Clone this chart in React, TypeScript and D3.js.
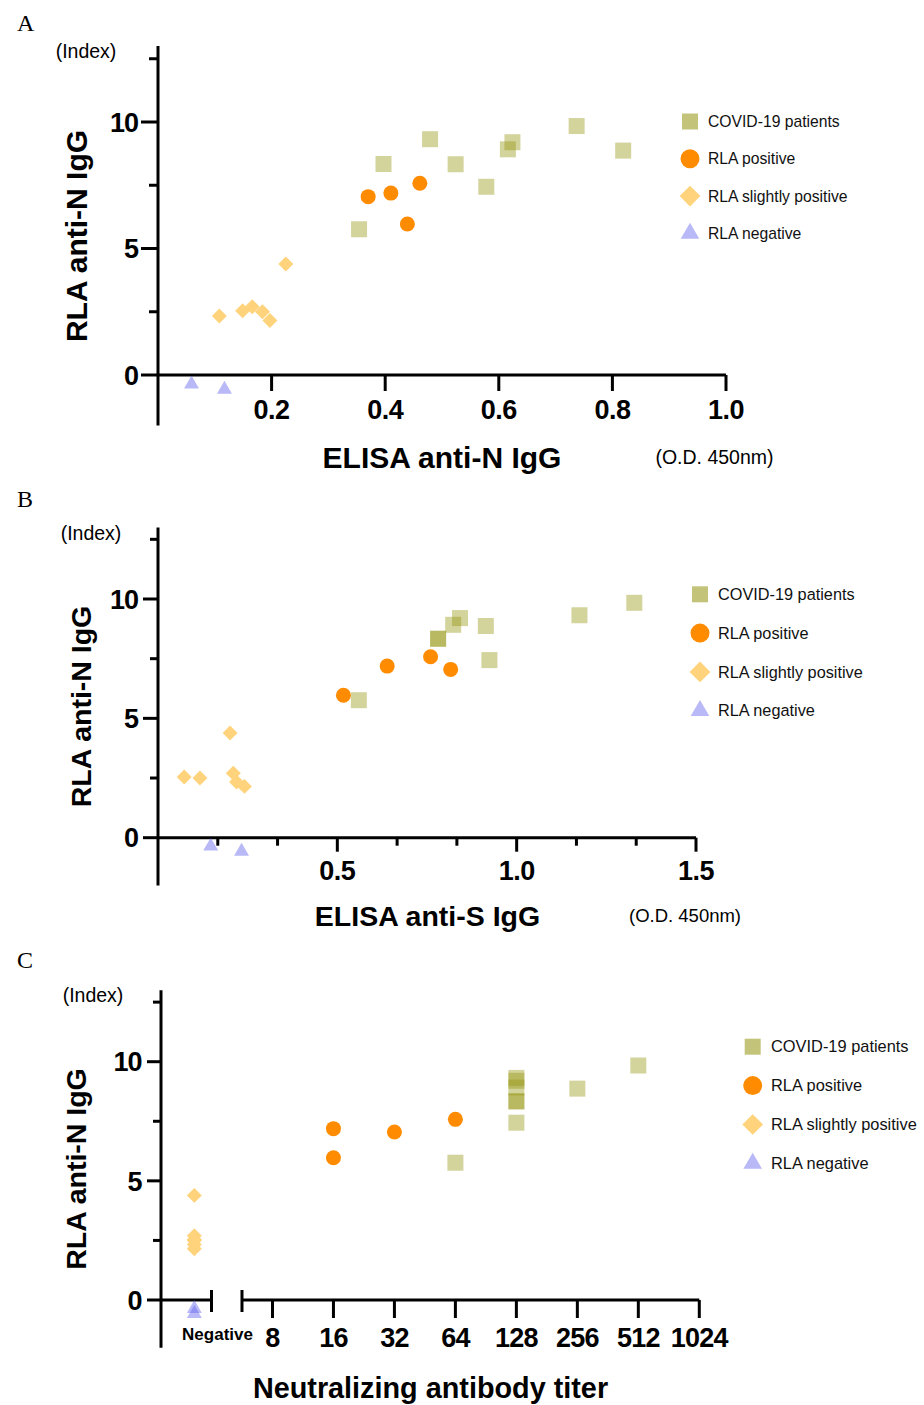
import React, { useEffect } from "react";
import * as d3 from "d3";

// ---------------- DATA ----------------
const legendLabels = ["COVID-19 patients", "RLA positive", "RLA slightly positive", "RLA negative"];
const yMajorTicks = [0, 5, 10];
const yMinorTicks = [2.5, 7.5, 12.5];

// Panel A: ELISA anti-N IgG (x) vs RLA anti-N IgG (y)
const aCovid: [number, number][] = [
  [0.354, 5.76], [0.397, 8.34], [0.479, 9.32], [0.524, 8.33], [0.578, 7.44],
  [0.616, 8.92], [0.624, 9.2], [0.737, 9.84], [0.819, 8.87],
];
const aPositive: [number, number][] = [[0.37, 7.05], [0.41, 7.19], [0.461, 7.58], [0.439, 5.97]];
const aSlight: [number, number][] = [[0.108, 2.33], [0.149, 2.54], [0.166, 2.7], [0.184, 2.5], [0.197, 2.15], [0.225, 4.39]];
const aNegative: [number, number][] = [[0.059, -0.36], [0.117, -0.57]];
const aXTicks = [0.2, 0.4, 0.6, 0.8, 1.0];

// Panel B: ELISA anti-S IgG (x) vs RLA anti-N IgG (y)
const bCovid: [number, number][] = [
  [0.56, 5.76], [0.781, 8.34], [0.781, 8.33], [0.823, 8.92], [0.842, 9.2],
  [0.914, 8.87], [0.924, 7.44], [1.175, 9.32], [1.328, 9.84],
];
const bPositive: [number, number][] = [[0.517, 5.97], [0.639, 7.19], [0.76, 7.58], [0.816, 7.05]];
const bSlight: [number, number][] = [[0.073, 2.54], [0.117, 2.5], [0.201, 4.39], [0.21, 2.7], [0.219, 2.33], [0.241, 2.15]];
const bNegative: [number, number][] = [[0.147, -0.36], [0.233, -0.57]];
const bXTicks = [0.5, 1.0, 1.5];
const bXMinor = [1 / 6, 2 / 6, 4 / 6, 5 / 6, 7 / 6, 8 / 6];

// Panel C: neutralizing antibody titer (0 = Negative) vs RLA anti-N IgG
const cCovid: [number, number][] = [
  [64, 5.76], [128, 7.44], [128, 8.34], [128, 8.33], [128, 9.32], [128, 8.92], [128, 9.2],
  [256, 8.87], [512, 9.84],
];
const cPositive: [number, number][] = [[16, 7.19], [16, 5.97], [32, 7.05], [64, 7.58]];
const cSlight: [number, number][] = [[0, 2.33], [0, 2.54], [0, 2.7], [0, 2.5], [0, 2.15], [0, 4.39]];
const cNegative: [number, number][] = [[0, -0.36], [0, -0.57]];
const cXTicks = [8, 16, 32, 64, 128, 256, 512, 1024];

// ---------------- STYLE ----------------
const FONT = "'Liberation Sans', Arial, Helvetica, sans-serif";
const SERIF = "'Liberation Serif', 'Times New Roman', serif";
const TICK_FS = 27;

type Shape = "square" | "circle" | "diamond" | "triangle";
const STYLES: { shape: Shape; fill: string; op: number; legOp: number }[] = [
  { shape: "square", fill: "rgb(150,150,20)", op: 0.42, legOp: 0.57 },
  { shape: "circle", fill: "#ff8c00", op: 1, legOp: 1 },
  { shape: "diamond", fill: "#ffd37c", op: 1, legOp: 1 },
  { shape: "triangle", fill: "rgb(100,100,240)", op: 0.45, legOp: 0.45 },
];

function symbolPath(shape: Shape, big: boolean) {
  if (shape === "square") return d3.symbol(d3.symbolSquare, 256)()!;
  if (shape === "circle") return d3.symbol(d3.symbolCircle, big ? 283 : 177)()!;
  if (shape === "diamond") return d3.symbol(d3.symbolSquare, big ? 215 : 112)()!;
  return d3.symbol(d3.symbolTriangle, big ? 150 : 97)()!;
}

function Marker({ x, y, idx, legend }: { x: number; y: number; idx: number; legend?: boolean }) {
  const s = STYLES[idx];
  const rot = s.shape === "diamond" ? " rotate(45)" : "";
  return (
    <path
      d={symbolPath(s.shape, !!legend)}
      transform={`translate(${x},${y})${rot}`}
      fill={s.fill}
      fillOpacity={legend ? s.legOp : s.op}
    />
  );
}

function Points({ series, fx, fy }: { series: [number, number][][]; fx: (v: number) => number; fy: (v: number) => number }) {
  return (
    <g>
      {series.map((pts, i) =>
        pts.map((p, j) => <Marker key={`${i}-${j}`} x={fx(p[0])} y={fy(p[1])} idx={i} />)
      )}
    </g>
  );
}

function Legend({ cx, tx, y0, step, fs }: { cx: number; tx: number; y0: number; step: number; fs: number }) {
  return (
    <g>
      {legendLabels.map((lab, i) => (
        <g key={lab}>
          <Marker x={cx} y={y0 + i * step} idx={i} legend />
          <text x={tx} y={y0 + i * step} dy="0.35em" fontFamily={FONT} fontSize={fs} fill="#111">
            {lab}
          </text>
        </g>
      ))}
    </g>
  );
}

function YAxis({ y, x0, majorLen, minorLen, labelRight, fs }: {
  y: d3.ScaleLinear<number, number>; x0: number; majorLen: number; minorLen: number; labelRight: number; fs: number;
}) {
  return (
    <g>
      <line x1={x0} x2={x0} y1={y(13)} y2={y(-2)} stroke="#000" strokeWidth={3} />
      {yMajorTicks.map((t) => (
        <g key={t}>
          <line x1={x0 - majorLen} x2={x0} y1={y(t)} y2={y(t)} stroke="#000" strokeWidth={3} />
          <text x={labelRight} y={y(t)} dy="0.36em" textAnchor="end" fontFamily={FONT} fontWeight="bold" fontSize={fs} letterSpacing={-1}>
            {t}
          </text>
        </g>
      ))}
      {yMinorTicks.map((t) => (
        <line key={t} x1={x0 - minorLen} x2={x0} y1={y(t)} y2={y(t)} stroke="#000" strokeWidth={3} />
      ))}
    </g>
  );
}

function YTitle({ x, yc, fs }: { x: number; yc: number; fs: number }) {
  return (
    <text transform={`translate(${x},${yc}) rotate(-90)`} textAnchor="middle" fontFamily={FONT} fontWeight="bold" fontSize={fs}>
      RLA anti-N IgG
    </text>
  );
}

export default function App() {
  useEffect(() => {
    document.body.style.margin = "0";
  }, []);

  // Panel A scales
  const xA = d3.scaleLinear().domain([0, 1]).range([158, 726]);
  const yA = d3.scaleLinear().domain([0, 10]).range([375, 122]);
  // Panel B scales
  const xB = d3.scaleLinear().domain([0, 1.5]).range([158, 696]);
  const yB = d3.scaleLinear().domain([0, 10]).range([837.7, 599]);
  // Panel C scales
  const xC = d3.scaleLog().base(2).domain([4, 1024]).range([211.5, 699.3]);
  const yC = d3.scaleLinear().domain([0, 10]).range([1300, 1061.7]);
  const cLeft = 161;
  const cNegX = cLeft + (xC(4) - cLeft) * 0.66;
  const fxC = (v: number) => (v === 0 ? cNegX : xC(v));
  const cSeg2 = xC(4 * Math.SQRT2);

  return (
    <svg width={924} height={1405} style={{ position: "absolute", left: 0, top: 0, background: "#fff" }}>
      <rect width={924} height={1405} fill="#fff" />

      {/* ---------- Panel A ---------- */}
      <text x={17} y={31} fontFamily={SERIF} fontSize={24}>A</text>
      <text x={86} y={58} textAnchor="middle" fontFamily={FONT} fontSize={19.5}>(Index)</text>
      <YTitle x={87} yc={236} fs={30} />
      <YAxis y={yA} x0={158} majorLen={17} minorLen={9} labelRight={138} fs={TICK_FS} />
      <line x1={158} x2={xA(1)} y1={yA(0)} y2={yA(0)} stroke="#000" strokeWidth={3} />
      {aXTicks.map((t) => (
        <g key={t}>
          <line x1={xA(t)} x2={xA(t)} y1={yA(0)} y2={yA(0) + 16} stroke="#000" strokeWidth={3} />
          <text x={xA(t)} y={yA(0) + 44} textAnchor="middle" fontFamily={FONT} fontWeight="bold" fontSize={TICK_FS} letterSpacing={-0.5}>
            {t.toFixed(1)}
          </text>
        </g>
      ))}
      <text x={442} y={468} textAnchor="middle" fontFamily={FONT} fontWeight="bold" fontSize={30}>ELISA anti-N IgG</text>
      <text x={714.5} y={464} textAnchor="middle" fontFamily={FONT} fontSize={19.5}>(O.D. 450nm)</text>
      <Points series={[aCovid, aPositive, aSlight, aNegative]} fx={xA} fy={yA} />
      <Legend cx={690} tx={708} y0={121.5} step={37.3} fs={15.7} />

      {/* ---------- Panel B ---------- */}
      <text x={17} y={507} fontFamily={SERIF} fontSize={24}>B</text>
      <text x={91} y={540} textAnchor="middle" fontFamily={FONT} fontSize={19.5}>(Index)</text>
      <YTitle x={91} yc={706.5} fs={28.5} />
      <YAxis y={yB} x0={158} majorLen={15} minorLen={8} labelRight={138} fs={TICK_FS} />
      <line x1={158} x2={xB(1.5)} y1={yB(0)} y2={yB(0)} stroke="#000" strokeWidth={3} />
      {bXMinor.map((t) => (
        <line key={t} x1={xB(t)} x2={xB(t)} y1={yB(0)} y2={yB(0) + 8} stroke="#000" strokeWidth={3} />
      ))}
      {bXTicks.map((t) => (
        <g key={t}>
          <line x1={xB(t)} x2={xB(t)} y1={yB(0)} y2={yB(0) + 14} stroke="#000" strokeWidth={3} />
          <text x={xB(t)} y={yB(0) + 42} textAnchor="middle" fontFamily={FONT} fontWeight="bold" fontSize={TICK_FS} letterSpacing={-0.5}>
            {t.toFixed(1)}
          </text>
        </g>
      ))}
      <text x={427.5} y={926} textAnchor="middle" fontFamily={FONT} fontWeight="bold" fontSize={28.5}>ELISA anti-S IgG</text>
      <text x={685} y={922} textAnchor="middle" fontFamily={FONT} fontSize={18.5}>(O.D. 450nm)</text>
      <Points series={[bCovid, bPositive, bSlight, bNegative]} fx={xB} fy={yB} />
      <Legend cx={700} tx={718} y0={594.3} step={38.8} fs={16.3} />

      {/* ---------- Panel C ---------- */}
      <text x={17} y={968} fontFamily={SERIF} fontSize={24}>C</text>
      <text x={93} y={1002} textAnchor="middle" fontFamily={FONT} fontSize={19.5}>(Index)</text>
      <YTitle x={86} yc={1169} fs={28.5} />
      <YAxis y={yC} x0={cLeft} majorLen={14} minorLen={8} labelRight={141.5} fs={TICK_FS} />
      {/* broken x axis */}
      <line x1={cLeft} x2={xC(4)} y1={yC(0)} y2={yC(0)} stroke="#000" strokeWidth={3} />
      <line x1={xC(4)} x2={xC(4)} y1={yC(0) - 10} y2={yC(0) + 12} stroke="#000" strokeWidth={3} />
      <line x1={cSeg2} x2={xC(1024)} y1={yC(0)} y2={yC(0)} stroke="#000" strokeWidth={3} />
      <line x1={cSeg2} x2={cSeg2} y1={yC(0) - 10} y2={yC(0) + 12} stroke="#000" strokeWidth={3} />
      {cXTicks.map((t) => (
        <g key={t}>
          <line x1={xC(t)} x2={xC(t)} y1={yC(0)} y2={yC(0) + 18} stroke="#000" strokeWidth={3} />
          <text x={xC(t)} y={yC(0) + 46.5} textAnchor="middle" fontFamily={FONT} fontWeight="bold" fontSize={TICK_FS} letterSpacing={-0.8}>
            {t}
          </text>
        </g>
      ))}
      <text x={217.5} y={1340} textAnchor="middle" fontFamily={FONT} fontWeight="bold" fontSize={17}>Negative</text>
      <text x={430.5} y={1398} textAnchor="middle" fontFamily={FONT} fontWeight="bold" fontSize={28.8}>Neutralizing antibody titer</text>
      <Points series={[cCovid, cPositive, cSlight, cNegative]} fx={fxC} fy={yC} />
      <Legend cx={752.7} tx={771} y0={1046.7} step={38.9} fs={16.4} />
    </svg>
  );
}
